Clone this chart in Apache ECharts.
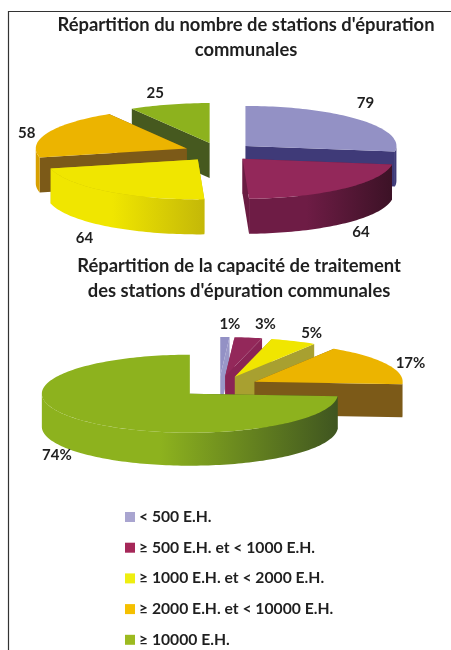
<!DOCTYPE html>
<html><head><meta charset="utf-8">
<style>html,body{margin:0;padding:0;background:#fff}#c{width:451px;height:650px}</style>
<script src="https://cdn.jsdelivr.net/npm/echarts@6/dist/echarts.min.js"></script>
</head><body><div id="c"></div>
<script>
// ---- data ----
const categories = ['< 500 E.H.', '≥ 500 E.H. et < 1000 E.H.', '≥ 1000 E.H. et < 2000 E.H.', '≥ 2000 E.H. et < 10000 E.H.', '≥ 10000 E.H.'];
const stationCounts = [79, 64, 64, 58, 25];
const capacityShares = [1, 3, 5, 17, 74];
const chartTitles = ["Répartition du nombre de stations d'épuration\ncommunales", "Répartition de la capacité de traitement\ndes stations d'épuration communales"];
const labelSuffix = ['', '%'];

// ---- layout and styling ----
const pies = [
  {cx: 219, cy: 152, rx: 151, ry: 40, depth: 35, explode: 35},
  {cx: 219, cy: 386.5, rx: 148, ry: 39, depth: 33, explode: 40}
];
const drawOrder = [[0, 4, 3, 2, 1], [0, 1, 2, 3, 4]];
const labelNudges = [
  [[6, -17], [17, 44], [-22, 47], [-21, 0], [-14, -11]],
  [[5, -13], [17, -13.5], [18, -8], [24, -1], [-25, 35]]
];
const topColors = ['#9391c5', '#93285a', '#f0e600', '#ecb400', '#8db21e'];
const legendColors = ['#a9a5d0', '#a52858', '#eeee10', '#f5c000', '#9cba20'];
const cutColors = [
  ['#3f3a78', '#6a1c42', '#c9bc06', '#7c5a18', '#46591f'],
  ['#9a98c8', '#8a2455', '#a8a030', '#7c5a18', '#46591f']
];
const wallColors = [
  [['#3f3a78', '#3f3a78'], ['#6e1c45', '#3c1226'], ['#f0e600', '#c4b808'], ['#d8a000', '#d8a000'], ['#46591f', '#46591f']],
  [['#9391c5', '#9391c5'], ['#8a2455', '#8a2455'], ['#a8a030', '#a8a030'], ['#7c5a18', '#7c5a18'], ['#8db21e', '#3f5520']]
];
const textColor = '#1f1f1f';
const fontFamily = 'Lato, "Open Sans", sans-serif';
const valueSets = [stationCounts, capacityShares];
const rad = Math.PI / 180;

function renderSlice(params, api) {
  const chart = api.value(0), value = api.value(1), i = params.seriesIndex;
  const set = valueSets[chart], total = set.reduce((a, b) => a + b, 0);
  const before = set.slice(0, i).reduce((a, b) => a + b, 0);
  const a0 = before / total * 360, a1 = (before + value) / total * 360, mid = (a0 + a1) / 2;
  const p = pies[chart];
  const cx = p.cx + p.explode * Math.sin(mid * rad);
  const cy = p.cy - p.explode * (p.ry / p.rx) * Math.cos(mid * rad);
  const pt = a => [cx + p.rx * Math.sin(a * rad), cy - p.ry * Math.cos(a * rad)];
  const arc = (s, e) => {
    const pts = [], n = Math.max(2, Math.ceil((e - s) / 1.5));
    for (let k = 0; k <= n; k++) pts.push(pt(s + (e - s) * k / n));
    return pts;
  };
  const down = pts => pts.map(q => [q[0], q[1] + p.depth]);
  const base = drawOrder[chart].indexOf(i) * 10;
  const children = [];
  [a0, a1].forEach(a => {
    const e = pt(a);
    children.push({type: 'polygon', z2: base, silent: true,
      shape: {points: [[cx, cy], e, [e[0], e[1] + p.depth], [cx, cy + p.depth]]},
      style: {fill: cutColors[chart][i]}});
  });
  const ws = Math.max(a0, 90), we = Math.min(a1, 270);
  if (we > ws) {
    const top = arc(ws, we);
    const w = wallColors[chart][i];
    children.push({type: 'polygon', z2: base + 1, silent: true,
      shape: {points: top.concat(down(top).reverse())},
      style: {fill: new echarts.graphic.LinearGradient(0, 0, 1, 0, [
        {offset: 0, color: w[0]}, {offset: 0.4, color: w[0]}, {offset: 1, color: w[1]}])}});
  }
  children.push({type: 'polygon', z2: base + 2, silent: true,
    shape: {points: [[cx, cy]].concat(arc(a0, a1))},
    style: {fill: topColors[i]}});
  const anchor = pt(mid), nudge = labelNudges[chart][i];
  children.push({type: 'text', z2: 100, silent: true,
    x: anchor[0] + nudge[0], y: anchor[1] + nudge[1],
    style: {text: value + labelSuffix[chart], fill: textColor, align: 'center', verticalAlign: 'middle',
      font: 'bold 15px ' + fontFamily}});
  return {type: 'group', children};
}

const titleStyle = {color: textColor, fontSize: 18.4, fontWeight: 'bold', fontFamily, lineHeight: 25.5};
const option = {
  animation: false,
  backgroundColor: '#fff',
  title: [
    {text: chartTitles[0], left: 246, top: 12, textAlign: 'center', padding: 0, textStyle: titleStyle},
    {text: chartTitles[1], left: 239, top: 253, textAlign: 'center', padding: 0, textStyle: titleStyle}
  ],
  legend: {
    orient: 'vertical', left: 125, top: 509, padding: 0,
    itemWidth: 10, itemHeight: 10, itemGap: 14.7, icon: 'rect',
    data: categories,
    textStyle: {color: textColor, fontSize: 15.7, fontWeight: 'bold', fontFamily, padding: [0, 0, 0, -1]},
    selectedMode: false
  },
  graphic: [{type: 'polyline', silent: true,
    shape: {points: [[8.5, 650], [8.5, 11.5], [451, 11.5]]},
    style: {stroke: '#333', lineWidth: 1.2, fill: null}}],
  series: categories.map((name, i) => ({
    type: 'custom', name, coordinateSystem: 'none',
    itemStyle: {color: legendColors[i]},
    renderItem: renderSlice,
    data: [[0, stationCounts[i]], [1, capacityShares[i]]]
  }))
};
echarts.init(document.getElementById('c'), null, {renderer: 'canvas'}).setOption(option);
</script></body></html>
